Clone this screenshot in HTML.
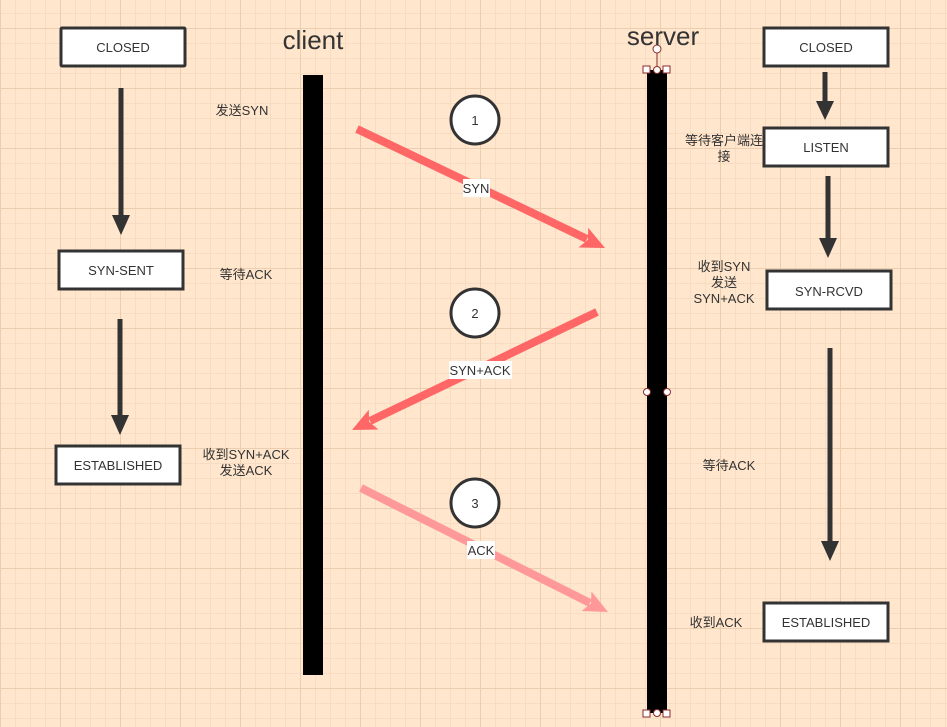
<!DOCTYPE html>
<html><head><meta charset="utf-8"><style>
html,body{margin:0;padding:0;}
body{width:947px;height:727px;overflow:hidden;background-color:#ffe6cc;
background-image:
linear-gradient(to right,#ebcdb0 1px,transparent 1px),
linear-gradient(to bottom,#ebcdb0 1px,transparent 1px),
linear-gradient(to right,#f5dcc3 1px,transparent 1px),
linear-gradient(to bottom,#f5dcc3 1px,transparent 1px);
background-size:60px 60px,60px 60px,15px 15px,15px 15px;
background-position:0 0,0 28px,0 0,0 13px;}
svg{position:absolute;left:0;top:0;}
text{font-family:"Liberation Sans","Noto Sans CJK SC",sans-serif;fill:#333;}
</style></head><body>
<svg width="947" height="727" viewBox="0 0 947 727">
<g fill="#fff" stroke="#333" stroke-width="3">
<rect x="61" y="28" width="124" height="38" rx="1"/>
<rect x="59" y="251" width="124" height="38"/>
<rect x="56" y="446" width="124" height="38"/>
<rect x="764" y="28" width="124" height="38"/>
<rect x="764" y="128" width="124" height="38"/>
<rect x="767" y="271" width="124" height="38"/>
<rect x="764" y="603" width="124" height="38"/>
<circle cx="475" cy="120" r="24"/>
<circle cx="475" cy="313" r="24"/>
<circle cx="475" cy="503" r="24"/>
</g>
<g font-size="13" text-anchor="middle">
<text x="123" y="52">CLOSED</text>
<text x="121" y="275">SYN-SENT</text>
<text x="118" y="470">ESTABLISHED</text>
<text x="826" y="52">CLOSED</text>
<text x="826" y="152">LISTEN</text>
<text x="829" y="296">SYN-RCVD</text>
<text x="826" y="627">ESTABLISHED</text>
<text x="475" y="125">1</text>
<text x="475" y="318">2</text>
<text x="475" y="508">3</text>
</g>
<g stroke="#333" stroke-width="5" fill="none">
<line x1="121" y1="88" x2="121" y2="217"/>
<line x1="120" y1="319" x2="120" y2="417"/>
<line x1="825" y1="72" x2="825" y2="103"/>
<line x1="828" y1="176" x2="828" y2="240"/>
<line x1="830" y1="348" x2="830" y2="543"/>
</g>
<g fill="#333">
<polygon points="112,215 130,215 121,235"/>
<polygon points="111,415 129,415 120,435"/>
<polygon points="816,101 834,101 825,120"/>
<polygon points="819,238 837,238 828,258"/>
<polygon points="821,541 839,541 830,561"/>
</g>
<rect x="303" y="75" width="20" height="600" fill="#000"/>
<rect x="647" y="70" width="20" height="643" fill="#000"/>
<g stroke="#8b2a2a" stroke-width="1" fill="#fff">
<line x1="657" y1="53" x2="657" y2="70"/>
<circle cx="657" cy="49" r="4"/>
<rect x="643" y="66" width="7" height="7"/><rect x="663" y="66" width="7" height="7"/><circle cx="657" cy="70" r="3.5"/>
<circle cx="647" cy="392" r="3.5"/><circle cx="667" cy="392" r="3.5"/>
<rect x="643" y="710" width="7" height="7"/><rect x="663" y="710" width="7" height="7"/><circle cx="657" cy="713" r="3.5"/>
</g>
<g stroke-width="8" fill="none">
<line x1="357" y1="129" x2="587" y2="239" stroke="#ff6666"/>
<line x1="597" y1="312" x2="370" y2="421" stroke="#ff6666"/>
<line x1="361" y1="488" x2="590" y2="603" stroke="#ff9999"/>
</g>
<polygon points="605,248 578.6,247.5 587.9,239.8 588.2,227.7" fill="#ff6666"/>
<polygon points="352,430 368.8,409.7 369.1,421.8 378.4,429.5" fill="#ff6666"/>
<polygon points="608,612 581.6,611 591,603.5 591.4,591.4" fill="#ff9999"/>
<rect x="463" y="179" width="27" height="18" fill="#fff"/>
<rect x="449" y="361" width="63" height="18" fill="#fff"/>
<rect x="467" y="541" width="28" height="18" fill="#fff"/>
<g font-size="13" text-anchor="middle">
<text x="476" y="193">SYN</text>
<text x="480" y="375">SYN+ACK</text>
<text x="481" y="555">ACK</text>
<text x="242" y="115">发送SYN</text>
<text x="246" y="279">等待ACK</text>
<text x="246" y="459">收到SYN+ACK</text>
<text x="246" y="475">发送ACK</text>
<text x="724" y="145">等待客户端连</text>
<text x="724" y="161">接</text>
<text x="724" y="271">收到SYN</text>
<text x="724" y="287">发送</text>
<text x="724" y="303">SYN+ACK</text>
<text x="729" y="470">等待ACK</text>
<text x="716" y="627">收到ACK</text>
</g>
<text x="313" y="49" font-size="26" text-anchor="middle">client</text>
<text x="663" y="45" font-size="26" text-anchor="middle">server</text>
</svg>
</body></html>
